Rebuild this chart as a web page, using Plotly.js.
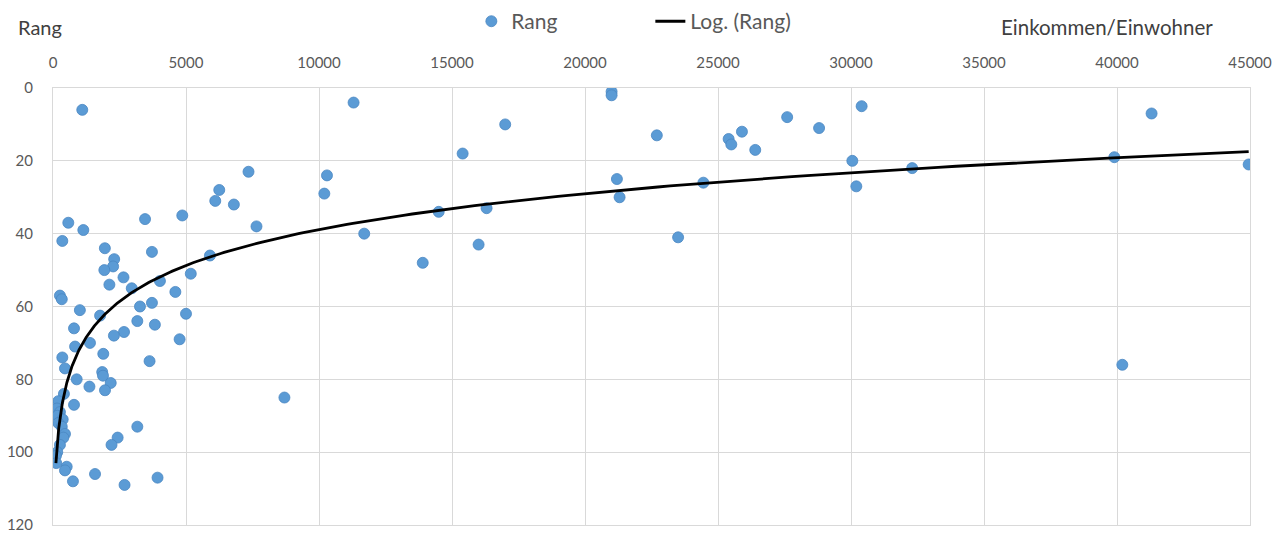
<!DOCTYPE html>
<html>
<head>
<meta charset="utf-8">
<script src="https://cdn.plot.ly/plotly-3.0.1.min.js"></script>
<style>
  html, body { margin: 0; padding: 0; background: #ffffff; }
  #chart { width: 1274px; height: 533px; }
</style>
</head>
<body>
<div id="chart"></div>
<script>
// Einkommen/Einwohner (x) and Rang (y)
const einkommen = [
  1100, 11300, 21000, 21000, 17000, 15400, 22700, 25400, 25500, 25900, 26400, 27600, 28800,
  30400, 30050, 30200, 32300, 39900, 41300, 44950, 40200, 21200, 21300, 24450, 23500,
  10300, 10200, 11700, 13900, 14500, 16000, 16300,
  7350, 6250, 6100, 6800, 7650, 4860, 5900, 5180, 4600, 5000, 4760,
  575, 1140, 350, 3460, 1950, 3720, 2300, 2260, 1930, 2650, 4020, 2120, 2960, 260, 330,
  3720, 3270, 1010, 1770, 3170, 3830, 790, 2670, 2290, 1390, 830, 1890, 350, 3630,
  450, 890, 1850, 1880, 2170, 1370, 1955, 790, 8700,
  410, 200, 150, 260, 160, 365, 200, 330, 450, 390, 260, 160, 110, 120, 515, 450, 750,
  1580, 2690, 3930, 3170, 2430, 2200
];
const rang = [
  6, 4, 1, 2, 10, 18, 13, 14, 15.5, 12, 17, 8, 11,
  5, 20, 27, 22, 19, 7, 21, 76, 25, 30, 26, 41,
  24, 29, 40, 48, 34, 43, 33,
  23, 28, 31, 32, 38, 35, 46, 51, 56, 62, 69,
  37, 39, 42, 36, 44, 45, 47, 49, 50, 52, 53, 54, 55, 57, 58,
  59, 60, 61, 62.5, 64, 65, 66, 67, 68, 70, 71, 73, 74, 75,
  77, 80, 78, 79, 81, 82, 83, 87, 85,
  84, 86, 88, 89, 90, 91, 92, 93, 95, 96, 98, 100, 101, 103, 104, 105, 108,
  106, 109, 107, 93, 96, 98
];
const xTickVals = [0, 5000, 10000, 15000, 20000, 25000, 30000, 35000, 40000, 45000];
const xTickText = ['0', '5000', '10000', '15000', '20000', '25000', '30000', '35000', '40000', '45000'];
const yTickVals = [0, 20, 40, 60, 80, 100, 120];
const yTickText = ['0', '20', '40', '60', '80', '100', '120'];

// Logarithmic trendline (least squares of rang on ln(einkommen)), like Excel's "Log." trendline
const n = einkommen.length;
let sx = 0, sy = 0, sxx = 0, sxy = 0;
for (let i = 0; i < n; i++) {
  const lx = Math.log(einkommen[i]);
  sx += lx; sy += rang[i]; sxx += lx * lx; sxy += lx * rang[i];
}
const slope = (n * sxy - sx * sy) / (n * sxx - sx * sx);
const intercept = (sy - slope * sx) / n;
const xMin = Math.min(...einkommen), xMax = Math.max(...einkommen);
const trendX = [], trendY = [];
for (let k = 0; k <= 300; k++) {
  const xv = Math.exp(Math.log(xMin) + (Math.log(xMax) - Math.log(xMin)) * k / 300);
  trendX.push(xv);
  trendY.push(intercept + slope * Math.log(xv));
}

const font = 'Lato, "Open Sans", "Liberation Sans", sans-serif';
const gridColor = '#d9d9d9';

const traces = [
  {
    type: 'scatter', mode: 'markers', name: 'Rang',
    x: einkommen, y: rang,
    marker: { color: '#5b9bd5', size: 11, line: { color: '#4a86c2', width: 0.8 } },
    hoverinfo: 'x+y'
  },
  {
    type: 'scatter', mode: 'lines', name: 'Log. (Rang)',
    x: trendX, y: trendY,
    line: { color: '#000000', width: 2.8 },
    hoverinfo: 'skip'
  }
];

const layout = {
  width: 1274, height: 533,
  margin: { l: 53, r: 24, t: 88, b: 8, autoexpand: false },
  paper_bgcolor: '#ffffff', plot_bgcolor: '#ffffff',
  font: { family: font, size: 15, color: '#595959' },
  showlegend: true,
  legend: {
    orientation: 'h', x: 0.3495, xanchor: 'left', y: 1.152, yanchor: 'middle',
    font: { family: font, size: 21, color: '#595959' },
    entrywidth: 134, entrywidthmode: 'pixels',
    bgcolor: 'rgba(0,0,0,0)'
  },
  xaxis: {
    side: 'top', range: [0, 45000], tickvals: xTickVals, ticktext: xTickText,
    showgrid: true, gridcolor: gridColor, gridwidth: 1,
    zeroline: false, showline: true, mirror: true, linecolor: gridColor, linewidth: 1,
    ticks: '', ticklabelstandoff: 13, ticklabeloverflow: 'allow',
    tickfont: { family: font, size: 15, color: '#595959' }
  },
  yaxis: {
    range: [120, 0], tickvals: yTickVals, ticktext: yTickText,
    showgrid: true, gridcolor: gridColor, gridwidth: 1,
    zeroline: false, showline: true, mirror: true, linecolor: gridColor, linewidth: 1,
    ticks: '', ticklabelstandoff: 16, ticklabeloverflow: 'allow',
    tickfont: { family: font, size: 15, color: '#595959' }
  },
  annotations: [
    { text: 'Rang', xref: 'paper', yref: 'paper', x: -0.031, y: 1.14, xanchor: 'left', yanchor: 'middle',
      showarrow: false, font: { family: font, size: 20, color: '#404040' } },
    { text: 'Einkommen/Einwohner', xref: 'paper', yref: 'paper', x: 0.79, y: 1.14, xanchor: 'left', yanchor: 'middle',
      showarrow: false, font: { family: font, size: 20.5, color: '#404040' } }
  ]
};

Plotly.newPlot('chart', traces, layout, { displayModeBar: false, staticPlot: true });
</script>
</body>
</html>
